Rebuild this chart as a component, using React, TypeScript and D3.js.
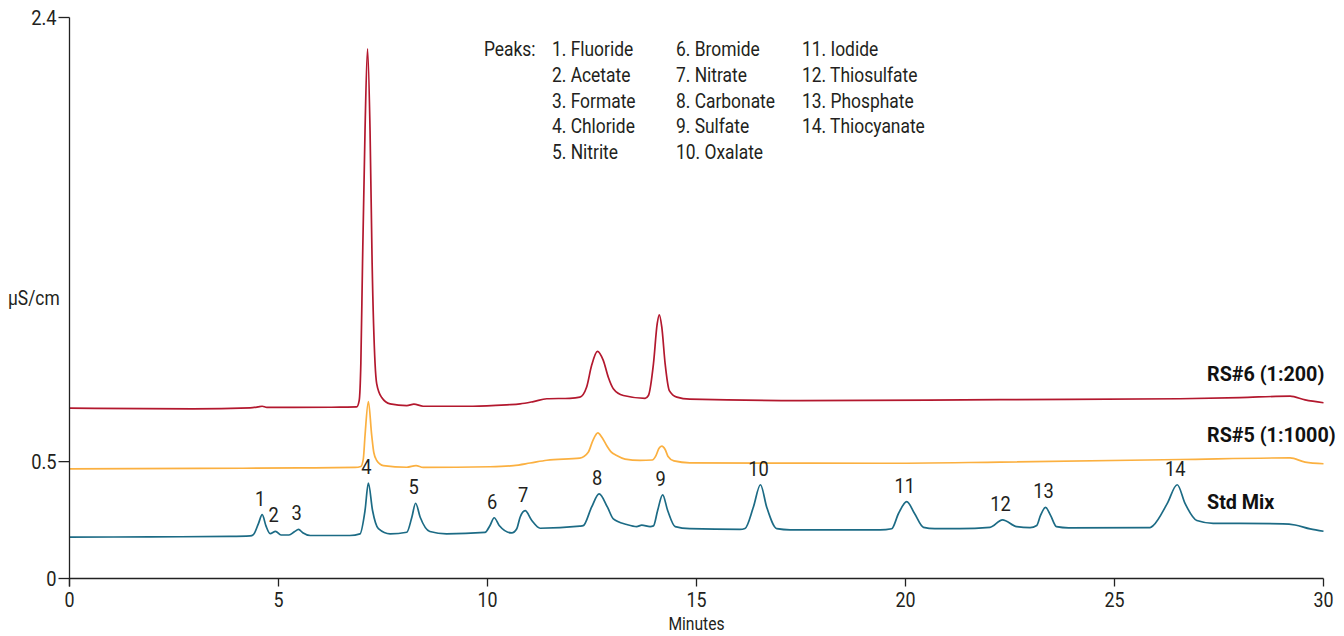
import React from "react";
import * as d3 from "d3";

// ---- Data (time in minutes, conductance in µS/cm) ----
const stdMix: [number, number][] = [
  [0, 0.177], [1.93, 0.178], [3.84, 0.180], [4.32, 0.182], [4.40, 0.188], [4.52, 0.235], [4.61, 0.273],
  [4.70, 0.225], [4.80, 0.192], [4.93, 0.202], [5.06, 0.186], [5.25, 0.186], [5.38, 0.200], [5.48, 0.210],
  [5.58, 0.196], [5.76, 0.184], [6.71, 0.184], [6.95, 0.191], [7.07, 0.291], [7.15, 0.408], [7.25, 0.291],
  [7.39, 0.213], [7.67, 0.191], [8.07, 0.198], [8.19, 0.262], [8.28, 0.322], [8.39, 0.262], [8.62, 0.201],
  [9.02, 0.191], [9.94, 0.197], [10.06, 0.227], [10.16, 0.260], [10.28, 0.227], [10.58, 0.195], [10.70, 0.213],
  [10.78, 0.262], [10.90, 0.290], [11.06, 0.248], [11.26, 0.215], [12.21, 0.224], [12.29, 0.226], [12.49, 0.305],
  [12.67, 0.362], [12.87, 0.305], [13.01, 0.255], [13.33, 0.231], [13.57, 0.222], [13.69, 0.228], [13.89, 0.222],
  [13.97, 0.225], [14.07, 0.291], [14.19, 0.358], [14.31, 0.291], [14.49, 0.222], [14.84, 0.213], [16.04, 0.210],
  [16.16, 0.214], [16.36, 0.305], [16.53, 0.401], [16.68, 0.305], [16.92, 0.213], [17.24, 0.208], [19.39, 0.208],
  [19.67, 0.213], [19.83, 0.277], [20.03, 0.329], [20.22, 0.277], [20.43, 0.219], [20.70, 0.213], [21.30, 0.213],
  [22.02, 0.219], [22.32, 0.251], [22.66, 0.222], [22.98, 0.218], [23.14, 0.227], [23.23, 0.270], [23.35, 0.304],
  [23.47, 0.270], [23.61, 0.222], [23.90, 0.217], [25.85, 0.218], [25.93, 0.227], [26.26, 0.320], [26.50, 0.401],
  [26.69, 0.320], [26.97, 0.248], [27.36, 0.236], [28.00, 0.236], [29.03, 0.234], [29.32, 0.229], [29.68, 0.212],
  [30, 0.202],
];

const rs5: [number, number][] = [
  [0, 0.469], [3.12, 0.471], [5.51, 0.473], [6.83, 0.475], [6.97, 0.479], [7.03, 0.513], [7.07, 0.612],
  [7.15, 0.757], [7.23, 0.612], [7.28, 0.539], [7.35, 0.505], [7.51, 0.483], [8.07, 0.476], [8.29, 0.483],
  [8.46, 0.475], [10.06, 0.478], [10.62, 0.483], [11.02, 0.494], [11.42, 0.506], [12.21, 0.515], [12.41, 0.540],
  [12.52, 0.590], [12.64, 0.623], [12.74, 0.603], [12.85, 0.569], [12.95, 0.543], [13.09, 0.526], [13.29, 0.511],
  [13.65, 0.505], [13.94, 0.507], [14.03, 0.526], [14.10, 0.556], [14.17, 0.566], [14.25, 0.552], [14.32, 0.522],
  [14.46, 0.503], [14.84, 0.495], [19.39, 0.493], [22.26, 0.498], [26.57, 0.509], [29.20, 0.516], [29.56, 0.498],
  [30, 0.491],
];

const rs6: [number, number][] = [
  [0, 0.729], [2.95, 0.726], [4.32, 0.730], [4.51, 0.734], [4.61, 0.737], [4.72, 0.732], [5.35, 0.732],
  [6.47, 0.733], [6.87, 0.734], [6.93, 0.761], [6.97, 0.920], [7.01, 1.348], [7.07, 1.917], [7.13, 2.266],
  [7.19, 1.917], [7.24, 1.348], [7.31, 0.920], [7.35, 0.833], [7.47, 0.774], [7.67, 0.747], [8.07, 0.740],
  [8.24, 0.746], [8.46, 0.737], [9.65, 0.737], [10.46, 0.743], [10.78, 0.747], [11.10, 0.757], [11.42, 0.769],
  [11.97, 0.771], [12.21, 0.776], [12.37, 0.818], [12.49, 0.911], [12.63, 0.972], [12.77, 0.933], [12.89, 0.861],
  [13.01, 0.812], [13.25, 0.783], [13.77, 0.771], [13.85, 0.783], [13.97, 0.918], [14.06, 1.090], [14.11, 1.128],
  [14.17, 1.075], [14.25, 0.918], [14.35, 0.804], [14.53, 0.776], [14.84, 0.767], [17.48, 0.761], [22.26, 0.765],
  [26.57, 0.769], [28.00, 0.774], [29.20, 0.780], [29.56, 0.764], [30, 0.752],
];

const peakNumbers = ["1", "2", "3", "4", "5", "6", "7", "8", "9", "10", "11", "12", "13", "14"];
const peakTimes = [4.61, 4.93, 5.48, 7.15, 8.28, 10.16, 10.90, 12.67, 14.19, 16.53, 20.03, 22.32, 23.35, 26.50];
const peakTops = [0.273, 0.202, 0.210, 0.408, 0.322, 0.260, 0.290, 0.362, 0.358, 0.401, 0.329, 0.251, 0.304, 0.401];

const peakNames = [
  "Fluoride", "Acetate", "Formate", "Chloride", "Nitrite",
  "Bromide", "Nitrate", "Carbonate", "Sulfate", "Oxalate",
  "Iodide", "Thiosulfate", "Phosphate", "Thiocyanate",
];

const seriesNames = ["RS#6 (1:200)", "RS#5 (1:1000)", "Std Mix"];
const xTicks = [0, 5, 10, 15, 20, 25, 30];
const yTicks = [0, 0.5, 2.4];

// ---- Layout ----
const W = 1344;
const H = 636;
const FONT = "Roboto, 'Liberation Sans', sans-serif";
const TXT = "#231f20";

// condensed text: horizontally squeezed to mimic the narrow face of the original
function CText(props: {
  x: number;
  y: number;
  children: React.ReactNode;
  anchor?: "start" | "middle" | "end";
  size?: number;
  sx?: number;
  weight?: string;
  fill?: string;
}) {
  const { x, y, children, anchor = "start", size = 20, sx = 0.87, weight = "normal", fill = TXT } = props;
  return (
    <text
      transform={`translate(${x},${y}) scale(${sx},1)`}
      textAnchor={anchor}
      fontFamily={FONT}
      fontSize={size}
      fontWeight={weight}
      fill={fill}
    >
      {children}
    </text>
  );
}

export default function App() {
  const x = d3.scaleLinear().domain([0, 30]).range([69.5, 1323.5]);
  const y = d3.scaleLinear().domain([0, 2.4]).range([578.5, 17.5]);
  const line = d3
    .line<[number, number]>()
    .x((d) => x(d[0]))
    .y((d) => y(d[1]))
    .curve(d3.curveMonotoneX);

  const series = [
    { data: rs6, color: "#b3182e", labelY: 381 },
    { data: rs5, color: "#fbb040", labelY: 441.5 },
    { data: stdMix, color: "#1c6b85", labelY: 509 },
  ];

  const legendCols = [552, 676, 802];
  const legendRowY = (i: number) => 56 + i * 25.8;

  return (
    <div style={{ position: "absolute", left: 0, top: 0 }}>
      <svg width={W} height={H} style={{ display: "block", background: "#fff" }}>
        {/* traces */}
        {series.map((s, i) => (
          <path key={i} d={line(s.data) || ""} fill="none" stroke={s.color} strokeWidth={1.7} strokeLinejoin="round" />
        ))}

        {/* axes */}
        <g stroke="#222" strokeWidth={1.3} fill="none">
          <line x1={x(0)} x2={x(0)} y1={y(2.4)} y2={y(0) + 8} />
          <line x1={x(0)} x2={x(30)} y1={y(0)} y2={y(0)} />
          {yTicks.map((t) => (
            <line key={"yt" + t} x1={x(0) - 11} x2={x(0)} y1={y(t)} y2={y(t)} />
          ))}
          {xTicks.map((t) => (
            <line key={"xt" + t} x1={x(t)} x2={x(t)} y1={y(0)} y2={y(0) + 8} />
          ))}
        </g>

        {yTicks.map((t) => (
          <CText key={"yl" + t} x={x(0) - 13} y={y(t) + 7.5} anchor="end" size={21}>
            {String(t)}
          </CText>
        ))}
        {xTicks.map((t) => (
          <CText key={"xl" + t} x={x(t)} y={607} anchor="middle" size={20.5}>
            {String(t)}
          </CText>
        ))}
        <CText x={x(15)} y={629.5} anchor="middle" size={18}>
          Minutes
        </CText>
        <CText x={8} y={305} size={20}>
          µS/cm
        </CText>

        {/* peak numbers */}
        {peakNumbers.map((p, i) => (
          <CText key={"pk" + p} x={x(peakTimes[i]) - 2} y={y(peakTops[i]) - 9} anchor="middle" size={21}>
            {p}
          </CText>
        ))}

        {/* legend */}
        <CText x={484} y={legendRowY(0)}>Peaks:</CText>
        {peakNames.map((n, i) => (
          <CText key={n} x={legendCols[Math.floor(i / 5)]} y={legendRowY(i % 5)}>
            {`${i + 1}. ${n}`}
          </CText>
        ))}

        {/* series labels */}
        {series.map((s, i) => (
          <CText key={"sl" + i} x={1207} y={s.labelY} size={21} weight="bold" sx={0.94} fill="#111">
            {seriesNames[i]}
          </CText>
        ))}
      </svg>
    </div>
  );
}
